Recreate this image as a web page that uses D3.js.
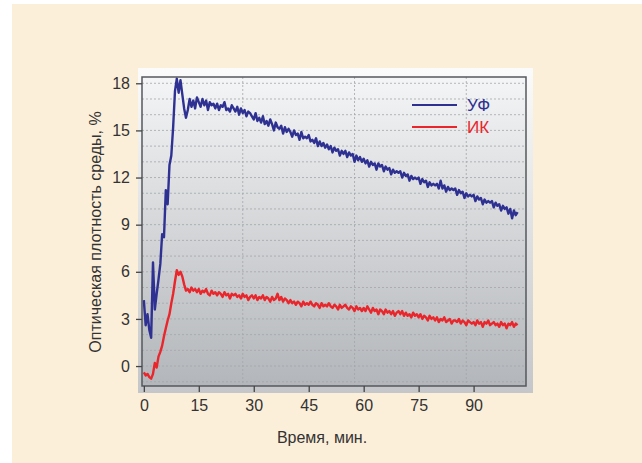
<!DOCTYPE html>
<html>
<head>
<meta charset="utf-8">
<script src="https://cdn.jsdelivr.net/npm/d3@7"></script>
<style>
  html, body { margin: 0; padding: 0; background: #fff; }
  svg { display: block; }
  text { font-family: "Liberation Sans", Arial, sans-serif; }
</style>
</head>
<body>
<div id="container"></div>
<script>
// minutes between samples
const timeStep = 0.5;

// УФ, % (every 0.5 min from 0 to 102)
const uvValues = [
  4.2, 2.6, 3.3, 2.3, 1.8, 6.6, 3.6, 4.6, 5.5, 6.5,
  8.4, 8.2, 11.2, 10.3, 12.8, 13.4, 15.2, 17.5, 18.3, 17.4,
  18.2, 17.3, 16.4, 15.8, 16.3, 17.0, 16.5, 16.9, 16.4, 17.1,
  16.8, 16.5, 17.0, 16.6, 16.9, 16.3, 16.8, 16.6, 16.7, 16.4,
  16.7, 16.3, 16.6, 16.5, 16.8, 16.3, 16.4, 16.2, 16.6, 16.4,
  16.2, 16.5, 16.0, 16.4, 16.1, 16.3, 15.9, 16.2, 16.1, 15.9,
  15.7, 16.1, 15.6, 15.8, 15.5, 15.9, 15.4, 15.6, 15.3, 15.7,
  15.4, 15.0, 15.5, 15.2, 15.1, 15.3, 14.8, 15.2, 14.9, 15.1,
  14.9, 14.6, 15.0, 14.7, 14.8, 14.4, 14.9, 14.5, 14.6, 14.5,
  14.7, 14.3, 14.4, 14.2, 14.5, 14.0, 14.3, 14.0, 14.2, 13.9,
  14.1, 13.8, 14.0, 13.6, 13.9, 13.7, 13.8, 13.4, 13.7, 13.5,
  13.7, 13.3, 13.6, 13.4, 13.5, 13.0, 13.4, 13.1, 13.3, 13.0,
  13.2, 12.9, 13.1, 12.7, 13.0, 12.8, 12.9, 12.5, 12.9, 12.7,
  12.8, 12.4, 12.7, 12.5, 12.6, 12.2, 12.5, 12.3, 12.4, 12.3,
  12.4, 12.0, 12.3, 12.1, 12.2, 11.8, 12.1, 11.9, 12.0, 11.9,
  12.0, 11.6, 11.9, 11.7, 11.8, 11.4, 11.7, 11.5, 11.6, 11.5,
  11.6, 11.3, 11.8, 11.3, 11.5, 11.1, 11.4, 11.2, 11.3, 11.2,
  11.3, 10.9, 11.2, 11.0, 11.1, 10.7, 11.0, 10.8, 10.9, 10.8,
  10.9, 10.5, 10.8, 10.6, 10.7, 10.3, 10.6, 10.4, 10.5, 10.4,
  10.5, 10.1, 10.4, 10.2, 10.3, 9.9, 10.2, 10.0, 10.1, 9.7,
  10.0, 9.4, 9.9, 9.6, 9.8
];

// ИК, %
const irValues = [
  -0.4, -0.6, -0.5, -0.7, -0.8, -0.5, 0.2, -0.1, 0.6, 0.9,
  1.3, 1.9, 2.4, 2.9, 3.3, 4.0, 4.6, 5.4, 6.1, 5.8,
  6.0, 5.7, 5.2, 4.8, 4.9, 4.7, 5.0, 4.8, 4.9, 4.7,
  4.9, 4.6, 4.8, 4.7, 4.9, 4.6, 4.5, 4.8, 4.6, 4.7,
  4.5, 4.7, 4.6, 4.4, 4.7, 4.5, 4.6, 4.3, 4.6, 4.5,
  4.6, 4.4, 4.5, 4.3, 4.6, 4.4, 4.5, 4.2, 4.4, 4.5,
  4.3, 4.5, 4.2, 4.4, 4.3, 4.5, 4.2, 4.4, 4.3, 4.1,
  4.4, 4.2, 4.3, 4.6, 4.2, 4.4, 4.1, 4.3, 4.2, 4.0,
  4.2, 4.0, 4.1, 3.9, 4.1, 4.0, 3.8, 4.1, 3.9, 4.0,
  3.9, 4.1, 3.9, 3.8, 4.0, 3.9, 3.7, 4.0, 3.8, 3.9,
  3.8, 4.0, 3.8, 3.7, 3.9, 3.8, 3.6, 3.9, 3.7, 3.8,
  3.9, 3.7, 3.6, 3.8, 3.7, 3.5, 3.8, 3.6, 3.7, 3.5,
  3.7, 3.5, 3.8, 3.6, 3.4, 3.7, 3.5, 3.6, 3.3, 3.6,
  3.5, 3.3, 3.6, 3.4, 3.5, 3.3, 3.5, 3.2, 3.4, 3.5,
  3.3, 3.5, 3.2, 3.4, 3.2, 3.3, 3.1, 3.4, 3.2, 3.3,
  3.1, 3.3, 3.0, 3.2, 3.1, 2.9, 3.2, 3.0, 3.1, 2.9,
  3.1, 2.8, 3.0, 2.9, 3.1, 2.8, 2.9, 3.0, 2.7, 2.9,
  2.9, 2.8, 3.0, 2.7, 2.9, 2.8, 2.6, 2.9, 2.8, 2.7,
  2.8, 2.6, 2.9, 2.7, 2.8, 2.5, 2.8, 2.7, 2.9, 2.6,
  2.7, 2.8, 2.6, 2.7, 2.5, 2.8, 2.6, 2.7, 2.4, 2.7,
  2.6, 2.8, 2.5, 2.7, 2.6
];

const xTicks = [0, 15, 30, 45, 60, 75, 90];
const yTicks = [0, 3, 6, 9, 12, 15, 18];
const xGrid = [27, 57.5, 88];
const yGrid = d3.range(-1, 19, 1);

const seriesNames = ["УФ", "ИК"];
const seriesColors = ["#2e3192", "#e8262b"];

const width = 642;
const height = 463;

const svg = d3.select("#container").append("svg")
  .attr("width", width)
  .attr("height", height);

const defs = svg.append("defs");
const grad = defs.append("linearGradient").attr("id", "plotGrad")
  .attr("x1", 0).attr("y1", 0).attr("x2", 0).attr("y2", 1);
grad.append("stop").attr("offset", "0%").attr("stop-color", "#f4f5f6");
grad.append("stop").attr("offset", "100%").attr("stop-color", "#b3b6ba");

const grad2 = defs.append("linearGradient").attr("id", "panelGrad")
  .attr("x1", 0).attr("y1", 0).attr("x2", 0).attr("y2", 1);
grad2.append("stop").attr("offset", "0%").attr("stop-color", "#fbfbfb");
grad2.append("stop").attr("offset", "100%").attr("stop-color", "#c4c6c9");

// cream page
svg.append("rect")
  .attr("x", 12).attr("y", 4)
  .attr("width", width - 12).attr("height", height - 4)
  .attr("fill", "#fcefda");

const plot = { left: 142, right: 526, top: 77, bottom: 386 };

// light panel behind the plot
svg.append("rect")
  .attr("x", 138).attr("y", 68)
  .attr("width", 533 - 138).attr("height", 393 - 68)
  .attr("fill", "url(#panelGrad)");

svg.append("rect")
  .attr("x", plot.left).attr("y", plot.top)
  .attr("width", plot.right - plot.left).attr("height", plot.bottom - plot.top)
  .attr("fill", "url(#plotGrad)");

const x = d3.scaleLinear().domain([-0.5, 104.3]).range([plot.left, plot.right]);
const y = d3.scaleLinear().domain([-1.27, 18.4]).range([plot.bottom, plot.top]);

// grid
svg.append("g")
  .selectAll("line")
  .data(yGrid)
  .join("line")
  .attr("x1", plot.left).attr("x2", plot.right)
  .attr("y1", d => y(d)).attr("y2", d => y(d))
  .attr("stroke", "#a3a6aa")
  .attr("stroke-width", 0.8)
  .attr("stroke-dasharray", "2,2");

svg.append("g")
  .selectAll("line")
  .data(xGrid)
  .join("line")
  .attr("x1", d => x(d)).attr("x2", d => x(d))
  .attr("y1", plot.top).attr("y2", plot.bottom)
  .attr("stroke", "#a3a6aa")
  .attr("stroke-width", 0.8)
  .attr("stroke-dasharray", "2,2");

// lines
const line = d3.line()
  .x((d, i) => x(i * timeStep))
  .y(d => y(d));

[uvValues, irValues].forEach((vals, k) => {
  svg.append("path")
    .datum(vals)
    .attr("fill", "none")
    .attr("stroke", seriesColors[k])
    .attr("stroke-width", 2.4)
    .attr("stroke-linejoin", "round")
    .attr("d", line);
});

// frame
svg.append("rect")
  .attr("x", plot.left).attr("y", plot.top)
  .attr("width", plot.right - plot.left).attr("height", plot.bottom - plot.top)
  .attr("fill", "none")
  .attr("stroke", "#55585c")
  .attr("stroke-width", 1.5);

// axes
const xAxis = svg.append("g")
  .attr("transform", `translate(0,${plot.bottom})`)
  .call(d3.axisBottom(x).tickValues(xTicks).tickSize(6).tickPadding(8));
const yAxis = svg.append("g")
  .attr("transform", `translate(${plot.left},0)`)
  .call(d3.axisLeft(y).tickValues(yTicks).tickSize(6).tickPadding(6));

[xAxis, yAxis].forEach(g => {
  g.select(".domain").remove();
  g.selectAll(".tick line").attr("stroke", "#444").attr("stroke-width", 1.3);
  g.selectAll(".tick text")
    .attr("fill", "#333")
    .style("font-size", "16px")
    .style("font-family", "'Liberation Sans', Arial, sans-serif");
});

// axis titles
svg.append("text")
  .attr("x", 322).attr("y", 443)
  .attr("text-anchor", "middle")
  .attr("fill", "#333")
  .style("font-size", "16px")
  .text("Время, мин.");

svg.append("text")
  .attr("transform", "translate(101,232) rotate(-90)")
  .attr("text-anchor", "middle")
  .attr("fill", "#333")
  .style("font-size", "16px")
  .text("Оптическая плотность среды, %");

// legend
const legend = svg.append("g").attr("transform", "translate(412,105)");
seriesNames.forEach((name, k) => {
  const row = legend.append("g").attr("transform", `translate(0,${k * 22})`);
  row.append("line")
    .attr("x1", 0).attr("x2", 45)
    .attr("stroke", seriesColors[k])
    .attr("stroke-width", 2);
  row.append("text")
    .attr("x", 55).attr("y", 6)
    .attr("fill", seriesColors[k])
    .style("font-size", "17px")
    .text(name);
});
</script>
</body>
</html>
